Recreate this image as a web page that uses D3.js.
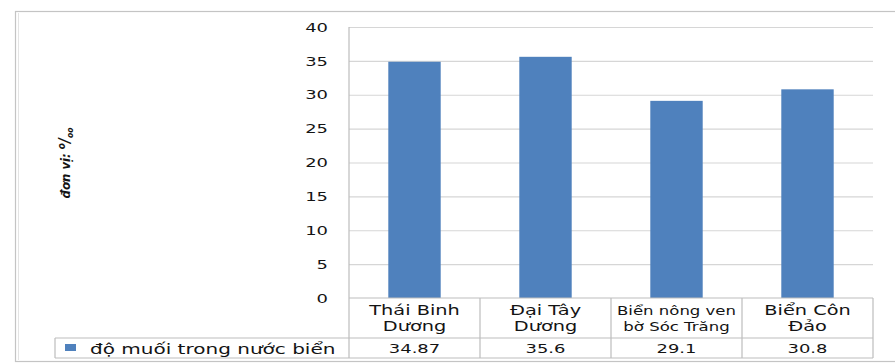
<!DOCTYPE html>
<html>
<head>
<meta charset="utf-8">
<script src="https://cdn.jsdelivr.net/npm/d3@7"></script>
<style>
  html, body { margin: 0; padding: 0; background: #fff; }
  svg { display: block; }
</style>
</head>
<body>
<svg id="chart" width="895" height="364"></svg>
<script>
// ---- data ----
const categories = ["Thái Binh\nDương", "Đại Tây\nDương", "Biển nông ven\nbờ Sóc Trăng", "Biển Côn\nĐảo"];
const values = [34.87, 35.6, 29.1, 30.8];
const valueLabels = ["34.87", "35.6", "29.1", "30.8"];
const seriesName = "độ muối trong nước biển";
const yTicks = [0, 5, 10, 15, 20, 25, 30, 35, 40];
const yTitle = "đơn vị: ";

// ---- layout ----
const W = 895, H = 364;
const plot = { left: 349, right: 873, top: 27, bottom: 298 };
const tableRow1 = 338, tableBottom = 358, legendLeft = 55;
const SX = 1.38;              // horizontal text stretch seen in the picture
const FONT = "DejaVu Sans, Verdana, sans-serif";
const TEXT = "#141414";
const GRID = "#d6d6d6";
const BORDER = "#bdbdbd";
const BAR = "#4f81bd";

const svg = d3.select("#chart");
svg.append("rect").attr("width", W).attr("height", H).attr("fill", "#fff");

// outer frame
svg.append("rect").attr("x", 15.5).attr("y", 11.5).attr("width", W).attr("height", 350)
  .attr("fill", "none").attr("stroke", "#c4c4c4").attr("stroke-width", 1.2);
svg.append("line").attr("x1", 18.5).attr("x2", 18.5).attr("y1", 13).attr("y2", 360)
  .attr("stroke", "#e4e4e4");

const y = d3.scaleLinear().domain([0, 40]).range([plot.bottom, plot.top]);
const x = d3.scaleBand().domain(categories).range([plot.left, plot.right]).padding(0);

function stretchedText(g, tx, ty, str, size, anchor) {
  return g.append("text")
    .attr("transform", `translate(${tx},${ty}) scale(${SX},1)`)
    .attr("text-anchor", anchor)
    .attr("font-family", FONT)
    .attr("font-size", size)
    .attr("fill", TEXT)
    .text(str);
}

// gridlines
const gridG = svg.append("g").attr("transform", `translate(${plot.left},0)`)
  .call(d3.axisLeft(y).tickValues(yTicks.filter(v => v > 0)).tickSize(-(plot.right - plot.left)).tickFormat(""));
gridG.select(".domain").remove();
gridG.selectAll(".tick line").attr("stroke", GRID).attr("stroke-width", 1.2);

// y tick labels
const tickG = svg.append("g");
yTicks.forEach(v => {
  stretchedText(tickG, 328, y(v) + 4.7, String(v), 13, "end");
});

// bars
const barW = x.bandwidth() * 0.4;
svg.append("g").selectAll("rect").data(values).join("rect")
  .attr("x", (d, i) => x(categories[i]) + (x.bandwidth() - barW) / 2)
  .attr("width", barW)
  .attr("y", d => y(d))
  .attr("height", d => y(0) - y(d))
  .attr("fill", BAR);

// plot left border, zero line, data table grid
const lines = svg.append("g").attr("stroke", BORDER).attr("stroke-width", 1.2).attr("fill", "none");
lines.append("line").attr("x1", plot.left).attr("x2", plot.left).attr("y1", plot.top).attr("y2", tableBottom);
lines.append("line").attr("x1", plot.left).attr("x2", plot.right).attr("y1", plot.bottom).attr("y2", plot.bottom);
lines.append("line").attr("x1", legendLeft).attr("x2", plot.right).attr("y1", tableRow1).attr("y2", tableRow1);
lines.append("line").attr("x1", legendLeft).attr("x2", plot.right).attr("y1", tableBottom).attr("y2", tableBottom);
lines.append("line").attr("x1", legendLeft).attr("x2", legendLeft).attr("y1", tableRow1).attr("y2", tableBottom);
categories.forEach(c => {
  const xr = x(c) + x.bandwidth();
  lines.append("line").attr("x1", xr).attr("x2", xr).attr("y1", plot.bottom).attr("y2", tableBottom);
});

// category labels (fit to cell)
const catG = svg.append("g");
categories.forEach(c => {
  const parts = c.split("\n");
  const cx = x(c) + x.bandwidth() / 2;
  let size = 14;
  const t = stretchedText(catG, cx, 0, "", size, "middle");
  parts.forEach((p, k) => t.append("tspan").attr("x", 0).attr("y", k === 0 ? 315 : 331).text(p));
  const maxW = x.bandwidth() - 12;
  const w = t.node().getBBox().width * SX;
  if (w > maxW) {
    size = size * maxW / w;
    t.attr("font-size", size);
  }
});

// values row
const valG = svg.append("g");
valueLabels.forEach((v, i) => {
  stretchedText(valG, x(categories[i]) + x.bandwidth() / 2, 353, v, 13, "middle");
});

// legend cell
svg.append("rect").attr("x", 65).attr("y", 344).attr("width", 11).attr("height", 7).attr("fill", BAR);
stretchedText(svg, 90, 354, seriesName, 14.5, "start");

// y-axis title (rotated, bold italic condensed)
const yt = svg.append("text")
  .attr("transform", "translate(70,163) rotate(-90)")
  .attr("text-anchor", "middle")
  .attr("font-family", "DejaVu Sans Condensed, DejaVu Sans, sans-serif")
  .attr("font-stretch", "condensed")
  .attr("font-size", 13)
  .attr("font-weight", "bold")
  .attr("font-style", "italic")
  .attr("fill", TEXT);
yt.append("tspan").text(yTitle);
yt.append("tspan").attr("font-size", 10).attr("dy", -5).text("o");
yt.append("tspan").attr("font-size", 15).attr("dy", 5).text("/");
yt.append("tspan").attr("font-size", 8.5).attr("dy", 3).text("oo");
</script>
</body>
</html>
